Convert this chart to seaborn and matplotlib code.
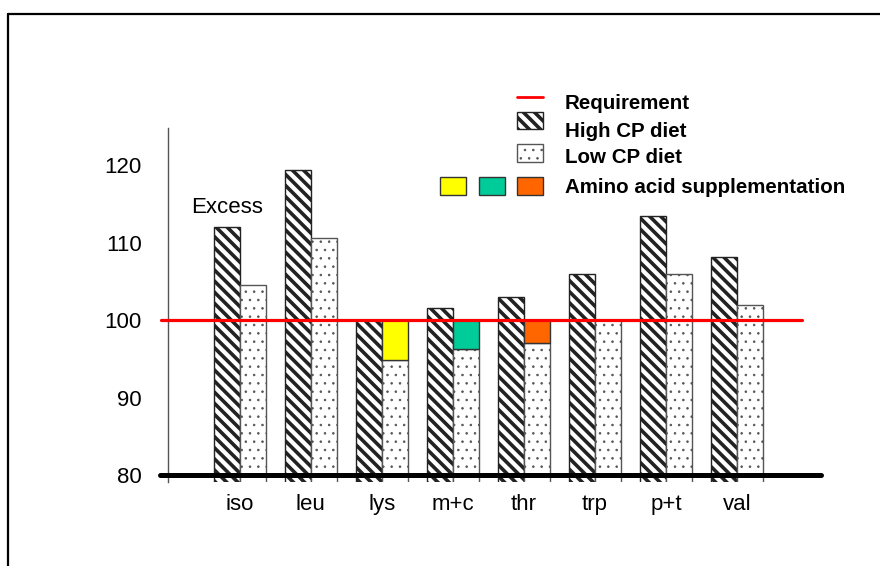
import matplotlib
matplotlib.use("Agg")
import matplotlib.pyplot as plt
import seaborn as sns
import pandas as pd
from matplotlib.patches import Rectangle
from matplotlib.lines import Line2D

# ---------------- data ----------------
amino_acids = ["iso", "leu", "lys", "m+c", "thr", "trp", "p+t", "val"]
high_cp = [112.0, 119.4, 100.0, 101.5, 103.0, 106.0, 113.5, 108.1]
low_cp = [104.5, 110.6, 94.8, 96.3, 97.0, 100.0, 106.0, 101.9]
supplement = [0.0, 0.0, 5.2, 3.7, 3.0, 0.0, 0.0, 0.0]
supplement_colors = ["none", "none", "#FFFF00", "#00CC99", "#FF6600", "none", "none", "none"]
requirement = 100
y_ticks = [80, 90, 100, 110, 120]
series_names = ["High CP diet", "Low CP diet"]

STRIPES = "\\\\\\"

# ---------------- style ----------------
sns.set_style("white")
plt.rcParams["font.family"] = ["Liberation Sans", "DejaVu Sans"]
plt.rcParams["text.color"] = "black"
plt.rcParams["xtick.color"] = "black"
plt.rcParams["ytick.color"] = "black"
plt.rcParams["hatch.color"] = "black"
plt.rcParams["hatch.linewidth"] = 2.6

W, H = 880, 566
fig = plt.figure(figsize=(W / 100, H / 100), dpi=100)
fx = lambda x: x / W
fy = lambda y: 1 - y / H

ax = fig.add_axes([fx(168), fy(482), (821 - 168) / W, (482 - 128) / H])

df = pd.DataFrame({
    "aa": amino_acids * 2,
    "value": high_cp + low_cp,
    "diet": [series_names[0]] * len(amino_acids) + [series_names[1]] * len(amino_acids),
})

sns.barplot(data=df, x="aa", y="value", hue="diet", order=amino_acids,
            hue_order=series_names, palette=["white", "white"], saturation=1,
            width=0.73, gap=0, legend=False, ax=ax, errorbar=None)

high_bars, low_bars = ax.containers[0], ax.containers[1]
for b in high_bars:
    b.set_facecolor("white")
    b.set_edgecolor("#222222")
    b.set_linewidth(1.0)
    b.set_hatch(STRIPES)
for b in low_bars:
    b.set_facecolor("white")
    b.set_edgecolor("#555555")
    b.set_linewidth(1.0)
    b.set_hatch("..")
    if hasattr(b, "set_hatch_linewidth"):
        b.set_hatch_linewidth(0.6)

# supplementation stacked on low CP bars
for b, s, c in zip(low_bars, supplement, supplement_colors):
    if s > 0:
        ax.bar(b.get_x() + b.get_width() / 2, s, bottom=b.get_height(),
               width=b.get_width(), color=c, edgecolor="#333333", linewidth=1.0,
               zorder=3)

ax.set_xlim(-1.01, 8.18)
ax.set_ylim(79.1, 124.8)
ax.set_yticks(y_ticks)
ax.set_yticklabels([str(t) for t in y_ticks])
ax.set_xlabel("")
ax.set_ylabel("")
ax.tick_params(axis="y", length=0, pad=19, labelsize=16, labelcolor="black")
ax.tick_params(axis="x", length=0, pad=20, labelsize=16, labelcolor="black")
for lab in ax.get_xticklabels():
    lab.set_verticalalignment("baseline")
for s in ["top", "right", "bottom"]:
    ax.spines[s].set_visible(False)
ax.spines["left"].set_color("#555555")
ax.spines["left"].set_linewidth(1.0)

# thick baseline at 80
ax.axhline(80, xmin=-8 / 653, xmax=1.0, color="black", lw=3.6, clip_on=False, zorder=6)
# requirement line
ax.axhline(requirement, xmin=(161 - 168) / 653, xmax=(802 - 168) / 653,
           color="red", lw=2.3, clip_on=False, zorder=7)

ax.text(-0.18, 113.8, "Excess", ha="center", va="baseline", fontsize=16, color="black")

# ---------------- legend (manual) ----------------
fig.add_artist(Line2D([fx(517), fx(543)], [fy(97), fy(97)], color="red", lw=2.0))
fig.add_artist(Rectangle((fx(517), fy(129)), 26 / W, 17 / H, transform=fig.transFigure,
                         facecolor="white", edgecolor="#222222", lw=1.0, hatch=STRIPES))
r = Rectangle((fx(517), fy(162)), 26 / W, 18 / H, transform=fig.transFigure,
              facecolor="white", edgecolor="#555555", lw=1.0, hatch="..")
if hasattr(r, "set_hatch_linewidth"):
    r.set_hatch_linewidth(0.6)
fig.add_artist(r)
for x0, c in zip([440, 479, 517], ["#FFFF00", "#00CC99", "#FF6600"]):
    fig.add_artist(Rectangle((fx(x0), fy(195)), 26 / W, 18 / H, transform=fig.transFigure,
                             facecolor=c, edgecolor="#333333", lw=1.0))
legend_texts = ["Requirement", "High CP diet", "Low CP diet", "Amino acid supplementation"]
for t, yb in zip(legend_texts, [109, 137, 163, 193]):
    fig.text(fx(565), fy(yb), t, ha="left", va="baseline", fontsize=14.8,
             fontweight="bold", color="black")

# ---------------- outer frame (left + top) ----------------
fig.add_artist(Line2D([fx(8), fx(8)], [0, fy(14)], color="black", lw=1.6))
fig.add_artist(Line2D([fx(8), 1], [fy(14), fy(14)], color="black", lw=1.6))

fig.savefig("out.png", dpi=100)
